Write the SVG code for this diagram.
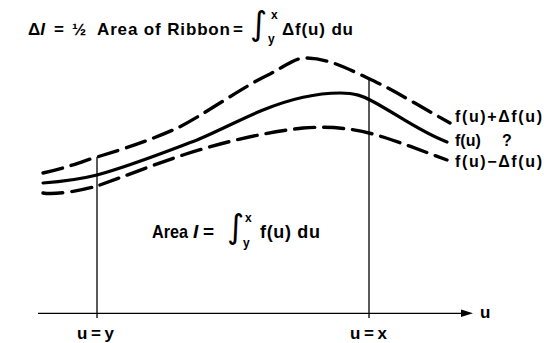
<svg xmlns="http://www.w3.org/2000/svg" width="544" height="343" viewBox="0 0 544 343">
<style>
text{font-family:"Liberation Sans",Arial,sans-serif;font-weight:bold;fill:#000}
.int{font-family:"DejaVu Sans",sans-serif;font-weight:normal}
.sm{font-size:12px}
.it{font-style:italic}
.dash{fill:none;stroke:#000;stroke-width:3.4;stroke-dasharray:20 9;stroke-linecap:round}
.solid{fill:none;stroke:#000;stroke-width:3.2;stroke-linecap:round}
.thin{fill:none;stroke:#000;stroke-width:1.3}
</style>
<rect width="544" height="343" fill="#fff"/>
<g id="title">
<text x="28" y="35" font-size="17">Δ<tspan class="it">I</tspan></text>
<text x="54" y="35" font-size="17">=</text>
<text x="72" y="35" font-size="17">½</text>
<text x="97" y="35" font-size="17" textLength="133" lengthAdjust="spacing">Area of Ribbon</text>
<text x="233" y="35" font-size="17">=</text>
<text class="int" x="250" y="35" font-size="33">∫</text>
<text class="sm" x="271" y="19">x</text>
<text class="sm" x="268" y="43">y</text>
<text x="282" y="35" font-size="17" textLength="71" lengthAdjust="spacing">Δf(u) du</text>
</g>
<g id="connectors">
<path class="thin" d="M97,157 V318"/>
<path class="thin" d="M369,78 V318"/>
<path class="thin" d="M38,313.3 H463" stroke-width="1.5"/>
<polygon points="461,309.5 473,313.3 461,317" fill="#000"/>
</g>
<g id="curve-upper">
<path class="dash" d="M43,173 C70,167 80,162 97,157 C130,147 150,140 173,130 C200,118 240,88 270,74 C285,66 295,58 305,58 C330,58 350,70 380,84 C400,94 430,112 450,123"/>
</g>
<g id="curve-f">
<path class="solid" d="M43,183 C70,181 85,178 97,175 C130,166 165,152 197,140 C225,128 245,117 263,110 C290,99 315,93 340,93 C355,93 363,96 372,101 C395,113 420,132 447,142"/>
</g>
<g id="curve-lower">
<path class="dash" d="M43,193 C55,195 80,191 97,186 C120,178 150,166 183,155 C220,143 260,133 303,128 C330,126 355,128 383,137 C405,144 425,152 447,160"/>
</g>
<g id="labels-right">
<text x="455" y="122" font-size="16" textLength="87" lengthAdjust="spacing">f(u)+Δf(u)</text>
<text x="455" y="146" font-size="16">f(u)</text>
<text x="502" y="146" font-size="16">?</text>
<text x="455" y="167" font-size="16" textLength="87" lengthAdjust="spacing">f(u)−Δf(u)</text>
</g>
<g id="area-label">
<text x="152" y="238" font-size="19" textLength="36" lengthAdjust="spacingAndGlyphs">Area</text>
<text x="193" y="238" font-size="19" class="it">I</text>
<text x="203" y="238" font-size="19">=</text>
<text class="int" x="227" y="238" font-size="33">∫</text>
<text class="sm" x="245" y="222">x</text>
<text class="sm" x="243" y="247">y</text>
<text x="260" y="238" font-size="18" textLength="60" lengthAdjust="spacing">f(u) du</text>
</g>
<g id="axis-labels">
<text x="480" y="318" font-size="17">u</text>
<text x="77" y="339" font-size="17" textLength="37" lengthAdjust="spacing">u=y</text>
<text x="350" y="339" font-size="17" textLength="37" lengthAdjust="spacing">u=x</text>
</g>
</svg>
